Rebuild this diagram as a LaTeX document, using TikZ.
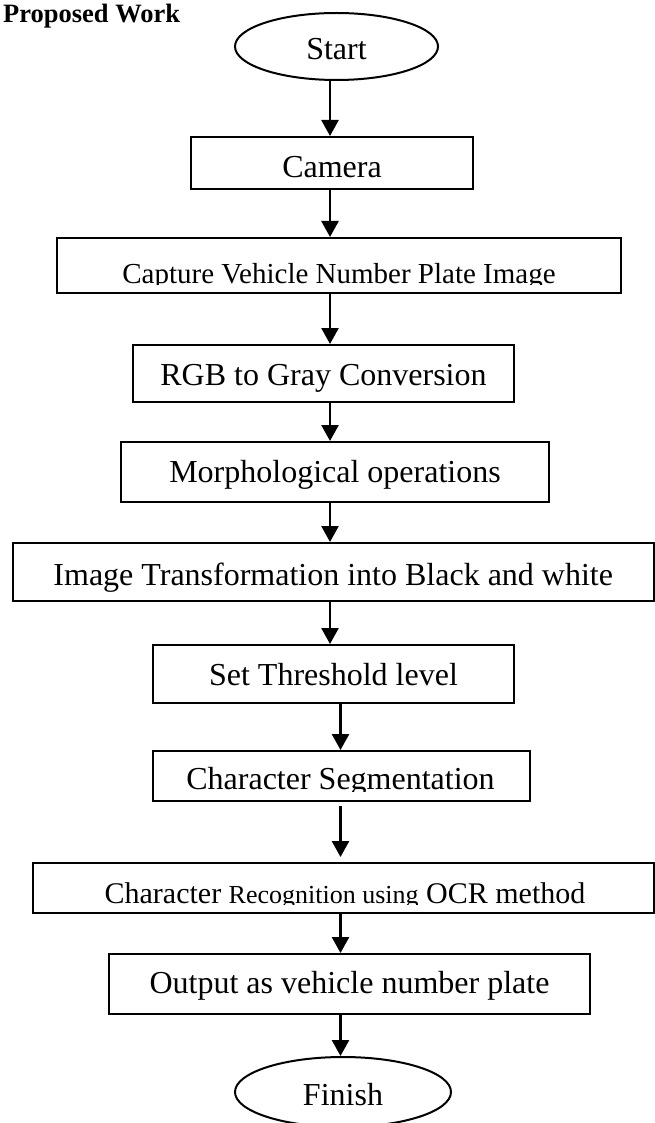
\documentclass[tikz,border=0pt]{standalone}
\usepackage{fontspec}
\setmainfont{Liberation Serif}
\usetikzlibrary{arrows.meta,shapes.geometric}
\tikzset{
 box/.style={draw, line width=2pt, rectangle, inner sep=0pt, font=\fontsize{32}{38}\selectfont},
 oval/.style={draw, line width=2pt, ellipse, inner sep=0pt, font=\fontsize{32}{38}\selectfont},
 arr/.style={-{Triangle[width=17pt,length=16pt]}, line width=2.6pt},
 lbl/.style={inner sep=0pt, anchor=base},
 bl/.style={text height=#1, text depth=0pt}
}
\begin{document}
\begin{tikzpicture}[x=1pt,y=-1pt]
\useasboundingbox (0,0) rectangle (655,1123);
\node[anchor=base west, inner sep=0pt, font=\bfseries\fontsize{26.5}{32}\selectfont] (title) at (3,23) {Proposed Work};
\node[oval, minimum width=203pt, minimum height=67pt, bl=27pt] (start) at (336.5,46.5) {Start};
\node[box, minimum width=282pt, minimum height=52pt, bl=30pt] (cam) at (332,163) {Camera};
\begin{scope}
\clip (57,238) rectangle (621,284);
\node[lbl, font=\fontsize{29}{34}\selectfont] (capT) at (339,283) {Capture Vehicle Number Plate Image};
\end{scope}
\node[box, minimum width=564pt, minimum height=55pt] (cap) at (339,265.5) {};
\node[box, minimum width=381pt, minimum height=57pt, bl=23pt] (rgb) at (323.5,373.5) {RGB to Gray Conversion};
\node[box, minimum width=428pt, minimum height=60pt, bl=20pt] (morph) at (335,472) {Morphological operations};
\node[box, minimum width=640.5pt, minimum height=58pt, bl=26pt] (imgt) at (333.25,572) {Image Transformation into Black and white};
\node[box, minimum width=361pt, minimum height=58pt, bl=22pt] (thr) at (333.5,674) {Set Threshold level};
\begin{scope}
\clip (153,751) rectangle (530,791);
\node[lbl, font=\fontsize{32}{38}\selectfont] (segT) at (340.5,789) {Character Segmentation};
\end{scope}
\node[box, minimum width=377pt, minimum height=50pt] (seg) at (341.5,776) {};
\begin{scope}
\clip (33,863) rectangle (653.5,904);
\node[lbl] (ocrT) at (345,903) {\fontsize{30}{36}\selectfont Character {\fontsize{26}{30}\selectfont Recognition using} OCR method};
\end{scope}
\node[box, minimum width=620.5pt, minimum height=50pt] (ocr) at (343.25,888) {};
\node[box, minimum width=481pt, minimum height=60pt, bl=18pt] (out) at (349.5,984) {Output as vehicle number plate};
\node[oval, minimum width=216pt, minimum height=70pt, bl=26pt] (fin) at (343,1092) {Finish};
\coordinate (ax1) at (330,0);
\coordinate (ax2) at (340.5,0);
\draw[arr] (start.south -| ax1) -- (cam.north -| ax1);
\draw[arr] (cam.south -| ax1) -- (cap.north -| ax1);
\draw[arr] (cap.south -| ax1) -- (rgb.north -| ax1);
\draw[arr] (rgb.south -| ax1) -- (morph.north -| ax1);
\draw[arr] (morph.south -| ax1) -- (imgt.north -| ax1);
\draw[arr] (imgt.south -| ax1) -- (thr.north -| ax1);
\draw[arr] (thr.south -| ax2) -- (seg.north -| ax2);
\draw[arr, shorten <=4pt, shorten >=5pt] (seg.south -| ax2) -- (ocr.north -| ax2);
\draw[arr] (ocr.south -| ax2) -- (out.north -| ax2);
\draw[arr] (out.south -| ax2) -- (fin.north -| ax2);
\end{tikzpicture}
\end{document}
